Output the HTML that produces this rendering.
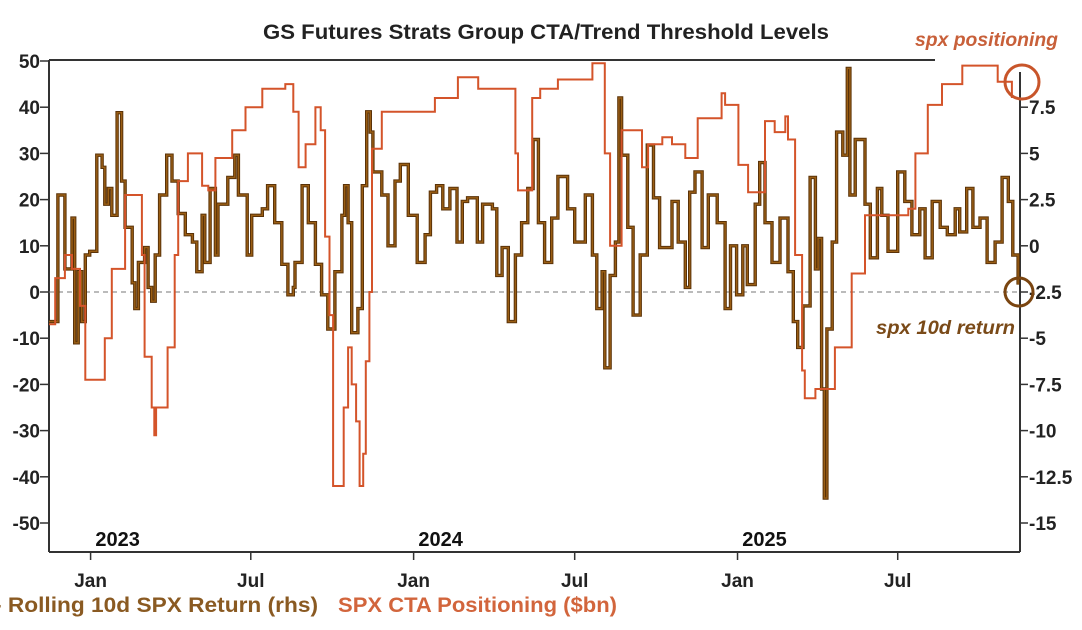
<!DOCTYPE html>
<html><head><meta charset="utf-8"><style>
body{margin:0;background:#fff;width:1082px;height:625px;overflow:hidden;font-family:"Liberation Sans",Arial,sans-serif}
svg text{font-family:"Liberation Sans",Arial,sans-serif}
</style></head><body>
<svg id="chart" width="1082" height="625" viewBox="0 0 1082 625" xmlns="http://www.w3.org/2000/svg">
<text x="546" y="39" text-anchor="middle" font-size="21" font-weight="bold" fill="#222" textLength="566" lengthAdjust="spacingAndGlyphs">GS Futures Strats Group CTA/Trend Threshold Levels</text>
<g id="axes"></g>
<g id="series"></g>
<text x="-6" y="612" font-size="21" font-weight="bold" fill="#8a5a22" textLength="324" lengthAdjust="spacingAndGlyphs">- Rolling 10d SPX Return (rhs)</text>
<text x="338" y="612" font-size="21" font-weight="bold" fill="#d2653c" textLength="279" lengthAdjust="spacingAndGlyphs">SPX CTA Positioning ($bn)</text>
<text x="915" y="46" font-size="19" font-weight="bold" font-style="italic" fill="#c8603a" textLength="143" lengthAdjust="spacingAndGlyphs">spx positioning</text>
<circle cx="1022" cy="82" r="17" fill="none" stroke="#c8552a" stroke-width="3"/>
<text x="876" y="334" font-size="19" font-weight="bold" font-style="italic" fill="#7a4a18" textLength="139" lengthAdjust="spacingAndGlyphs">spx 10d return</text>
<circle cx="1019" cy="292" r="14" fill="none" stroke="#7a4510" stroke-width="3"/>
</svg>
<script>
// Days since 2022-11-15
const orangeDays=[0,7,18,26,35,41,55,63,71,86,94,105,108,116,119,121,125,134,142,146,157,173,180,188,207,222,241,267,276,282,290,301,307,312,317,321,329,333,338,342,347,351,355,358,362,365,376,410,436,462,485,512,527,530,541,546,555,575,614,628,634,640,647,659,670,677,693,704,719,733,760,764,779,790,798,809,820,832,835,843,851,854,866,877,888,907,922,933,971,979,993,1009,1032,1061,1072,1088];
const orangeVals=[-7,3,8,5,-3,-19,-19,-10,5,21,21,8,-14,-25,-31,-25,-25,-12,8,24,30,23,22,29,35,40,44,45,39,27,32,40,35,12,-5,-42,-42,-25,-12,-20,-28,-42,-35,-15,0,31,39,39,42,46.5,44,44,30,22,22,42,44,46,49.5,30,10,10,35,35,27,32,33.5,32,29,37.6,43,40.5,27.5,21.6,21.6,37,34.6,38,33,8,-17,-23,-21,-21,-12,4,16.6,16.6,18,30,40.5,45,49,49,45.5,42];
const brownDays=[0,10,16,18,26,29,33,37,41,46,54,60,63,67,71,77,82,86,94,97,101,108,112,116,120,125,133,139,146,154,162,167,173,176,182,188,191,202,210,214,224,229,241,247,255,263,270,276,278,286,293,301,308,315,323,331,334,338,342,349,354,359,363,366,376,383,391,397,406,416,425,431,438,445,453,461,467,473,484,490,501,506,512,519,527,534,541,547,553,560,568,575,586,594,606,614,619,625,628,634,640,644,647,654,660,668,676,683,690,704,711,719,724,730,738,745,755,764,770,777,784,789,798,803,809,817,826,835,841,846,852,860,866,869,873,876,879,885,890,897,902,905,911,919,922,928,936,941,948,959,967,975,984,990,998,1007,1015,1024,1029,1037,1044,1052,1060,1069,1077,1084,1089,1095];
const brownVals=[-4.1,2.75,2.75,-1.25,1.5,-5.25,-1.4,-4.1,-0.5,-0.3,4.9,4.25,2.25,3.1,1.65,7.2,3.5,1,-2,-3.4,-0.9,-0.1,-2.25,-3,-0.5,2.75,4.9,3.5,1.75,0.6,0.2,-1.4,1.65,-0.9,3.1,-0.5,2.25,3.7,4.9,2.75,-0.5,1.65,2,3.25,1.25,-1,-2.65,-2.25,-0.9,3.25,1.25,-1,-2.65,-4.5,-1.4,1.65,3.25,1.25,-4.7,-3.4,3.25,7.25,6.15,4,2.75,0,3.5,4.4,1.65,-0.9,0.6,2.9,3.25,2,3.1,0.2,2.4,2.6,0.2,2.25,2,-1.6,-0.1,-4.1,-0.5,1.25,3.1,5.75,1.25,-0.9,1.5,3.75,2,0.2,2.75,-0.5,-3.4,-1.4,-6.6,-1.6,0.2,8,4.9,1,-3.75,-0.5,5.45,2.6,-0.1,2.4,0.2,-2.25,2.9,4,-0.1,2.75,1.25,-3.4,0,-2.65,0,-2.1,2.25,4.5,1.25,-0.9,1.5,-1.4,-4.1,-5.5,-3.25,3.7,-1.25,0.4,-7.75,-13.65,-4.5,0.2,6.15,4.9,9.6,2.75,5.75,5.75,2.25,-0.65,3.1,1.65,-0.3,4,2.4,0.6,2,-0.65,2.4,1,0.6,2,0.75,3.1,1,1.5,-0.9,0.2,3.7,2.4,-0.5,-2.1];
const leftTicks=[50,40,30,20,10,0,-10,-20,-30,-40,-50];
const rightTicks=[7.5,5,2.5,0,-2.5,-5,-7.5,-10,-12.5,-15];
const monthTicks=[["Jan",47],["Jul",228],["Jan",412],["Jul",594],["Jan",778],["Jul",959]];
const yearLabels=[["2023",47],["2024",412],["2025",778]];

const NS="http://www.w3.org/2000/svg";
const X0=49,X1=1020,YT=60,YB=552;
const xs=d=>49+d*0.885;
const yl=v=>292-v*4.62;
const yr=v=>292-(v+2.5)*18.48;
function mk(tag,attrs,parent){const e=document.createElementNS(NS,tag);for(const k in attrs)e.setAttribute(k,attrs[k]);parent.appendChild(e);return e;}
const ax=document.getElementById('axes');
let e;
e=mk('line',{x1:X0,y1:YT,x2:935,y2:YT,stroke:'#333','stroke-width':2},ax);


e=mk('line',{x1:X0,y1:YT,x2:X0,y2:YB,stroke:'#333','stroke-width':2},ax);


e=mk('line',{x1:X1,y1:72,x2:X1,y2:YB,stroke:'#333','stroke-width':2},ax);


e=mk('line',{x1:X0,y1:YB,x2:X1,y2:YB,stroke:'#333','stroke-width':2},ax);


e=mk('line',{x1:X0,y1:yl(0),x2:X1,y2:yl(0),stroke:'#777','stroke-width':1,'stroke-dasharray':'5,4'},ax);


leftTicks.forEach(v=>{
  const y=yl(v);
  e=mk('line',{x1:40,y1:y,x2:X0,y2:y,stroke:'#333','stroke-width':1.5},ax);
  
  
  e=mk('text',{x:40,y:y+7,'text-anchor':'end','font-size':19,'font-weight':'bold',fill:'#222'},ax);
  e.textContent=String(v);
  
  
});
rightTicks.forEach(v=>{
  const y=yr(v);
  e=mk('line',{x1:X1,y1:y,x2:X1+8,y2:y,stroke:'#333','stroke-width':1.5},ax);
  
  
  e=mk('text',{x:X1+9,y:y+7,'font-size':19,'font-weight':'bold',fill:'#222'},ax);
  e.textContent=String(v);
  
  
});
monthTicks.forEach(([m,d])=>{
  const x=xs(d);
  e=mk('line',{x1:x,y1:YB,x2:x,y2:YB+8,stroke:'#333','stroke-width':1.5},ax);
  
  
  e=mk('text',{x:x,y:YB+35,'text-anchor':'middle','font-size':19,'font-weight':'bold',fill:'#222'},ax);
  e.textContent=m;
  
  
});
yearLabels.forEach(([t,d])=>{
  e=mk('text',{x:xs(d)+27,y:546,'text-anchor':'middle','font-size':20,'font-weight':'bold',fill:'#111'},ax);
  e.textContent=t;
  
  
});
function stepPath(days,vals,yf){
  let p='M'+xs(days[0]).toFixed(1)+','+yf(vals[0]).toFixed(1);
  for(let i=1;i<days.length;i++){p+='H'+xs(days[i]).toFixed(1)+'V'+yf(vals[i]).toFixed(1);}
  return p;
}
const sg=document.getElementById('series');
e=mk('path',{d:stepPath(brownDays,brownVals,yr),fill:'none',stroke:'#5a3208','stroke-width':3.4,'stroke-linejoin':'miter'},sg);


e=mk('path',{d:stepPath(brownDays,brownVals,yr),fill:'none',stroke:'#9a5e14','stroke-width':1.4},sg);


e=mk('path',{d:stepPath(orangeDays,orangeVals,yl),fill:'none',stroke:'#d4542a','stroke-width':2},sg);


</script>
</body></html>
